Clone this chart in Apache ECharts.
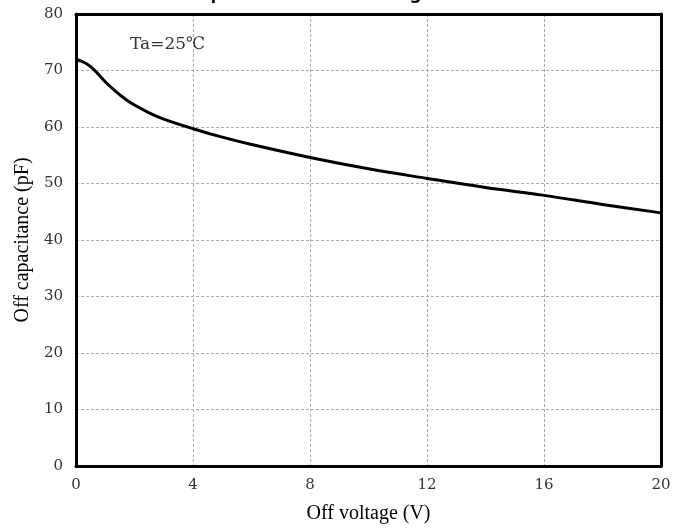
<!DOCTYPE html>
<html>
<head>
<meta charset="utf-8">
<script src="https://cdn.jsdelivr.net/npm/echarts@6/dist/echarts.min.js"></script>
<style>
  html, body { margin: 0; padding: 0; background: #fff; }
  #chart { width: 688px; height: 529px; }
</style>
</head>
<body>
<div id="chart"></div>
<script>
// Off capacitance against off voltage, Ta = 25 °C
const voltage = [0, 0.25, 0.5, 0.75, 1.0, 1.25, 1.5, 1.75, 2, 2.5, 3, 4, 5, 6, 8, 10, 12, 14, 16, 18, 20];
const capacitance = [72.0, 71.5, 70.7, 69.4, 68.0, 66.8, 65.7, 64.7, 63.9, 62.5, 61.4, 59.7, 58.2, 56.9, 54.6, 52.6, 50.9, 49.3, 47.9, 46.3, 44.8];
const xTicks = [0, 4, 8, 12, 16, 20];
const yTicks = [0, 10, 20, 30, 40, 50, 60, 70, 80];

const chart = echarts.init(document.getElementById('chart'), null, { renderer: 'canvas' });
const serif = '"Liberation Serif", "DejaVu Serif", serif';
const tickFont = { fontFamily: '"DejaVu Serif", serif', fontSize: 15, color: '#333' };
const dashed = { show: true, lineStyle: { color: '#aaa', type: [3, 2], width: 1 } };
const frame = { show: true, onZero: false, lineStyle: { color: '#000', width: 3 } };

chart.setOption({
  animation: false,
  backgroundColor: '#fff',
  grid: { left: 76, right: 27, top: 14, bottom: 61 },
  xAxis: [{
    type: 'value',
    min: xTicks[0], max: xTicks[xTicks.length - 1], interval: 4,
    name: 'Off voltage (V)',
    nameLocation: 'middle', nameGap: 38,
    nameTextStyle: { fontFamily: serif, fontSize: 20, color: '#000' },
    axisLine: frame,
    axisTick: { show: false },
    axisLabel: Object.assign({ margin: 12 }, tickFont),
    splitLine: dashed,
    z: 3
  }, {
    type: 'value', position: 'top',
    min: xTicks[0], max: xTicks[xTicks.length - 1],
    axisLine: frame, axisTick: { show: false }, axisLabel: { show: false }, splitLine: { show: false },
    z: 3
  }],
  yAxis: [{
    type: 'value',
    min: yTicks[0], max: yTicks[yTicks.length - 1], interval: 10,
    name: 'Off capacitance (pF)',
    nameLocation: 'middle', nameGap: 42,
    nameTextStyle: { fontFamily: serif, fontSize: 20, color: '#000' },
    axisLine: frame,
    axisTick: { show: false },
    axisLabel: Object.assign({ margin: 13 }, tickFont),
    splitLine: dashed,
    z: 3
  }, {
    type: 'value', position: 'right',
    min: yTicks[0], max: yTicks[yTicks.length - 1],
    axisLine: frame, axisTick: { show: false }, axisLabel: { show: false }, splitLine: { show: false },
    z: 3
  }],
  series: [{
    type: 'line',
    data: voltage.map((v, i) => [v, capacitance[i]]),
    smooth: 0.4,
    showSymbol: false,
    lineStyle: { color: '#000', width: 3 },
    z: 5
  }],
  graphic: [{
    type: 'text',
    x: 295, y: -6.5,
    style: {
      text: 'Off capacitance vs. Off voltage',
      font: 'bold 18px "Noto Sans", sans-serif',
      fill: '#000', align: 'center', verticalAlign: 'middle'
    }
  }, {
    type: 'text',
    x: 130, y: 36,
    style: { text: 'Ta=25℃', font: '17px "DejaVu Serif", serif', fill: '#333' }
  }]
});
</script>
</body>
</html>
